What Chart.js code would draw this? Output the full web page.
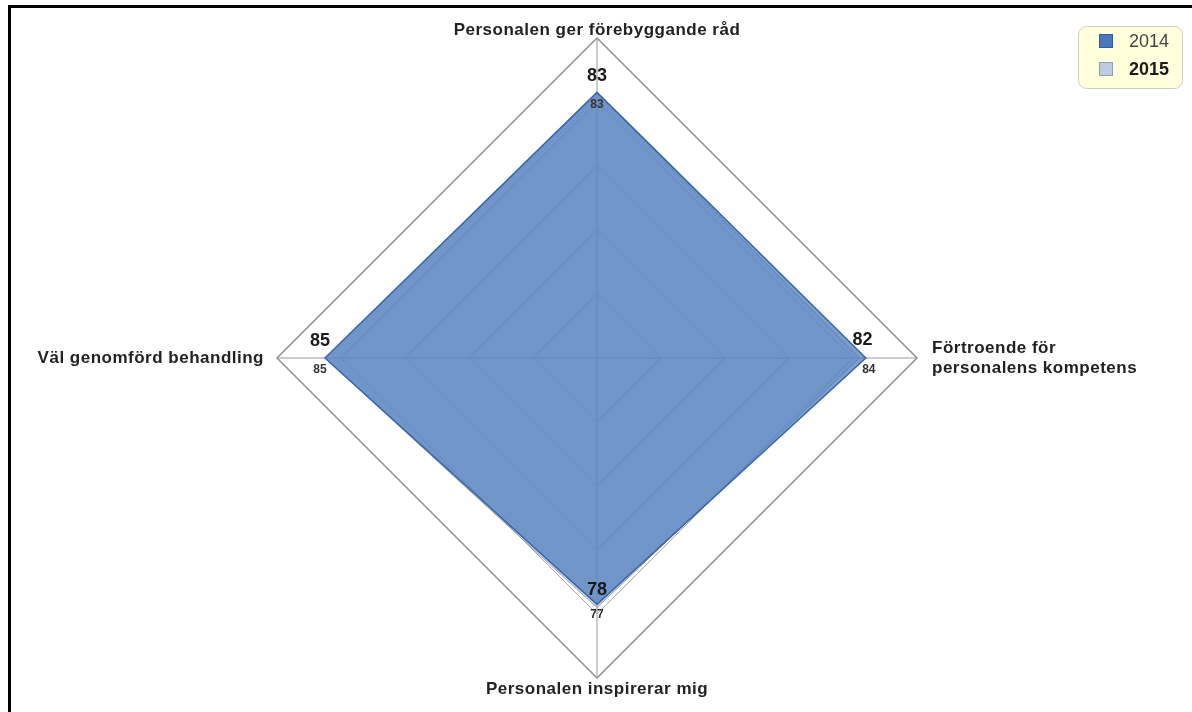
<!DOCTYPE html>
<html>
<head>
<meta charset="utf-8">
<title>Radar 2014–2015</title>
<script src="https://cdn.jsdelivr.net/npm/chart.js@4/dist/chart.umd.min.js"></script>
<style>
  html, body { margin: 0; padding: 0; background: #fff; overflow: hidden; }
  #wrap { position: relative; width: 1192px; height: 712px; }
  #frame { position: absolute; left: 8px; top: 5px; width: 1400px; height: 900px;
           border-top: 3px solid #000; border-left: 3px solid #000; pointer-events: none; }
  canvas { position: absolute; left: 0; top: 0; }
</style>
</head>
<body>
<div id="wrap">
  <canvas id="c" width="1192" height="712"></canvas>
  <div id="frame"></div>
</div>
<script>
// Axis categories (clockwise from the top), one entry per line of text
const categories = [
  ['Personalen ger förebyggande råd'],
  ['Förtroende för', 'personalens kompetens'],
  ['Personalen inspirerar mig'],
  ['Väl genomförd behandling']
];
const years = ['2014', '2015'];
const values2014 = [83, 84, 77, 85];
const values2015 = [83, 82, 78, 85];
const scaleMin = 0;
const scaleMax = 100;
const scaleStep = 20;

const FONT = '"Liberation Sans", Arial, sans-serif';

// Value labels beside each vertex: 2015 large, 2014 small
const valueLabels = {
  id: 'valueLabels',
  afterDatasetsDraw(chart) {
    const ctx = chart.ctx;
    ctx.save();
    ctx.textAlign = 'center';
    ctx.textBaseline = 'middle';
    chart.data.datasets.forEach((ds, di) => {
      const meta = chart.getDatasetMeta(di);
      const big = ds.label === '2015';
      ctx.font = big ? 'bold 18px ' + FONT : 'bold 12px ' + FONT;
      ctx.fillStyle = big ? '#1a1a1a' : '#333';
      meta.data.forEach((pt, i) => {
        const dx = i === 1 ? 3 : (i === 3 ? -5 : 0);
        let dy = big ? -18 : 12;
        if (big && i === 0) dy = -16;
        if (big && i === 3) dy = -17;
        if (!big && i === 2) dy = 10;
        ctx.fillText(String(ds.data[i]), pt.x + dx, pt.y + dy);
      });
    });
    ctx.restore();
  }
};

// Category labels placed just outside the outer ring
const axisTitles = {
  id: 'axisTitles',
  afterDraw(chart) {
    const scale = chart.scales.r;
    const ctx = chart.ctx;
    const r = scale.drawingArea;
    ctx.save();
    ctx.font = 'bold 17px ' + FONT;
    ctx.letterSpacing = '0.5px';
    ctx.fillStyle = '#222';
    const lh = 20;
    chart.data.labels.forEach((lines, i) => {
      let p;
      if (i === 0) {
        p = scale.getPointPosition(i, r + 3);
        ctx.textAlign = 'center'; ctx.textBaseline = 'alphabetic';
        lines.forEach((t, k) => ctx.fillText(t, p.x, p.y - (lines.length - 1 - k) * lh));
      } else if (i === 2) {
        p = scale.getPointPosition(i, r + 3);
        ctx.textAlign = 'center'; ctx.textBaseline = 'top';
        lines.forEach((t, k) => ctx.fillText(t, p.x, p.y + k * lh));
      } else if (i === 1) {
        p = scale.getPointPosition(i, r + 15);
        ctx.textAlign = 'left'; ctx.textBaseline = 'middle';
        const y0 = p.y - (lines.length - 1) * lh / 2;
        lines.forEach((t, k) => ctx.fillText(t, p.x, y0 + k * lh));
      } else {
        p = scale.getPointPosition(i, r + 13);
        ctx.textAlign = 'right'; ctx.textBaseline = 'middle';
        const y0 = p.y - (lines.length - 1) * lh / 2;
        lines.forEach((t, k) => ctx.fillText(t, p.x, y0 + k * lh));
      }
    });
    ctx.restore();
  }
};

// Boxed legend in the top-right corner
const boxLegend = {
  id: 'boxLegend',
  afterDraw(chart) {
    const ctx = chart.ctx;
    const x = 1078.5, y = 26.5, w = 104, h = 62;
    ctx.save();
    ctx.beginPath();
    ctx.roundRect(x, y, w, h, 8);
    ctx.fillStyle = '#ffffdc';
    ctx.fill();
    ctx.strokeStyle = '#cfcfbf';
    ctx.lineWidth = 1;
    ctx.stroke();
    chart.data.datasets.forEach((ds, i) => {
      const sy = 34 + i * 28;
      ctx.fillStyle = ds.legendFill;
      ctx.fillRect(1099, sy, 14, 14);
      ctx.strokeStyle = ds.legendStroke;
      ctx.strokeRect(1099.5, sy + 0.5, 13, 13);
      const bold = ds.label === '2015';
      ctx.font = (bold ? 'bold ' : '') + '18px ' + FONT;
      ctx.fillStyle = bold ? '#1a1a1a' : '#444';
      ctx.textAlign = 'left';
      ctx.textBaseline = 'middle';
      ctx.fillText(ds.label, 1129, sy + 8);
    });
    ctx.restore();
  }
};

new Chart(document.getElementById('c'), {
  type: 'radar',
  data: {
    labels: categories,
    datasets: [
      {
        label: years[0],
        data: values2014,
        backgroundColor: 'rgba(72,122,187,0.72)',
        borderColor: '#3a66aa',
        borderWidth: 1.5,
        pointRadius: 0,
        legendFill: '#4a77bb',
        legendStroke: '#2f5a9c'
      },
      {
        label: years[1],
        data: values2015,
        backgroundColor: 'rgba(180,196,222,0.5)',
        borderColor: '#9a9a9a',
        borderWidth: 1,
        pointRadius: 0,
        legendFill: '#bccbe2',
        legendStroke: '#8f9fb8'
      }
    ]
  },
  options: {
    responsive: false,
    animation: false,
    devicePixelRatio: 1,
    layout: { padding: { left: 277, right: 275, top: 38, bottom: 34 } },
    plugins: { legend: { display: false }, tooltip: { enabled: false } },
    elements: { line: { tension: 0 } },
    scales: {
      r: {
        min: scaleMin,
        max: scaleMax,
        ticks: { display: false, stepSize: scaleStep },
        pointLabels: { display: false },
        grid: {
          color: ctx => ctx.tick && ctx.tick.value === scaleMax ? '#8e8e8e' : '#a8a8a8',
          lineWidth: ctx => ctx.tick && ctx.tick.value === scaleMax ? 1.5 : 1
        },
        angleLines: { color: '#999', lineWidth: 1 }
      }
    }
  },
  plugins: [valueLabels, axisTitles, boxLegend]
});
</script>
</body>
</html>
